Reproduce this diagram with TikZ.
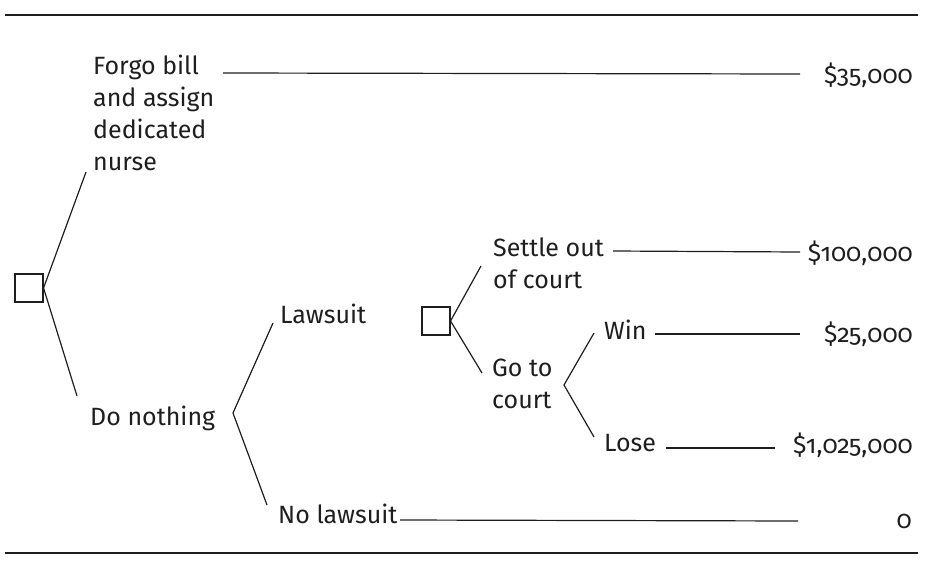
\documentclass[tikz,border=0pt]{standalone}
\usepackage{fontspec}
\setmainfont{Fira Sans}[Numbers=OldStyle]
\definecolor{ink}{RGB}{30,30,30}
\begin{document}
\begin{tikzpicture}[x=1pt,y=-1pt,
  lbl/.style={inner sep=0pt,anchor=base west,align=left,text=ink,font=\fontsize{25}{32}\selectfont},
  val/.style={inner sep=0pt,anchor=base east,text=ink,font=\fontsize{25}{32}\selectfont},
  decbox/.style={draw=ink,line width=1.1pt,minimum size=28pt,inner sep=0pt},
  edge/.style={draw=ink,line width=1.2pt},
  rule/.style={draw=ink,line width=1.5pt}]
\useasboundingbox (0,0) rectangle (930,563);
% rules
\coordinate (t1) at (5,15); \coordinate (t2) at (918,15);
\coordinate (b1) at (5,553); \coordinate (b2) at (918,553);
\draw[rule] (t1) -- (t2);
\draw[rule] (b1) -- (b2);
% decision nodes
\node[decbox] (sq1) at (29,288) {};
\node[decbox] (sq2) at (436,321) {};
% labels (multi-line nodes are placed by the baseline of their last line)
\node[lbl] (forgo) at (93,170) {Forgo bill\\and assign\\dedicated\\nurse};
\node[lbl] (donothing) at (90,425) {Do nothing};
\node[lbl] (lawsuit) at (280,323) {Lawsuit};
\node[lbl] (nolawsuit) at (278,523) {No lawsuit};
\node[lbl] (settle) at (493,288) {Settle out\\of court};
\node[lbl] (goto) at (492,408) {Go to\\court};
\node[lbl] (win) at (604,339) {Win};
\node[lbl] (lose) at (604,451) {Lose};
% values
\node[val] (v1) at (913,83) {\$35,000};
\node[val] (v2) at (913,261) {\$100,000};
\node[val] (v3) at (913,342) {\$25,000};
\node[val] (v4) at (913,453) {\$1,025,000};
\node[val] (v5) at (912,528) {0};
% branch points and line ends
\coordinate (forgotip) at (86,172);
\coordinate (dntip) at (77,396);
\coordinate (dn) at (233,413);
\coordinate (lawtip) at (273,323);
\coordinate (nolawtip) at (267,505);
\coordinate (settletip) at (481,266);
\coordinate (gototip) at (482,373);
\coordinate (gc) at (564,385);
\coordinate (wintip) at (594,333);
\coordinate (losetip) at (594,437);
\coordinate (l1a) at (223,73); \coordinate (l1b) at (800,74);
\coordinate (l2a) at (613,251); \coordinate (l2b) at (800,252);
\coordinate (l3a) at (655,334); \coordinate (l3b) at (800,334);
\coordinate (l4a) at (666,448); \coordinate (l4b) at (775,448);
\coordinate (l5a) at (400,520); \coordinate (l5b) at (798,521);
% branches
\draw[edge] (forgotip) -- (sq1.east) -- (dntip);
\draw[edge] (lawtip) -- (dn) -- (nolawtip);
\draw[edge] (settletip) -- (sq2.east) -- (gototip);
\draw[edge] (wintip) -- (gc) -- (losetip);
% payoff lines
\draw[edge] (l1a) -- (l1b);
\draw[edge] (l2a) -- (l2b);
\draw[edge] (l3a) -- (l3b);
\draw[edge] (l4a) -- (l4b);
\draw[edge] (l5a) -- (l5b);
\end{tikzpicture}
\end{document}
